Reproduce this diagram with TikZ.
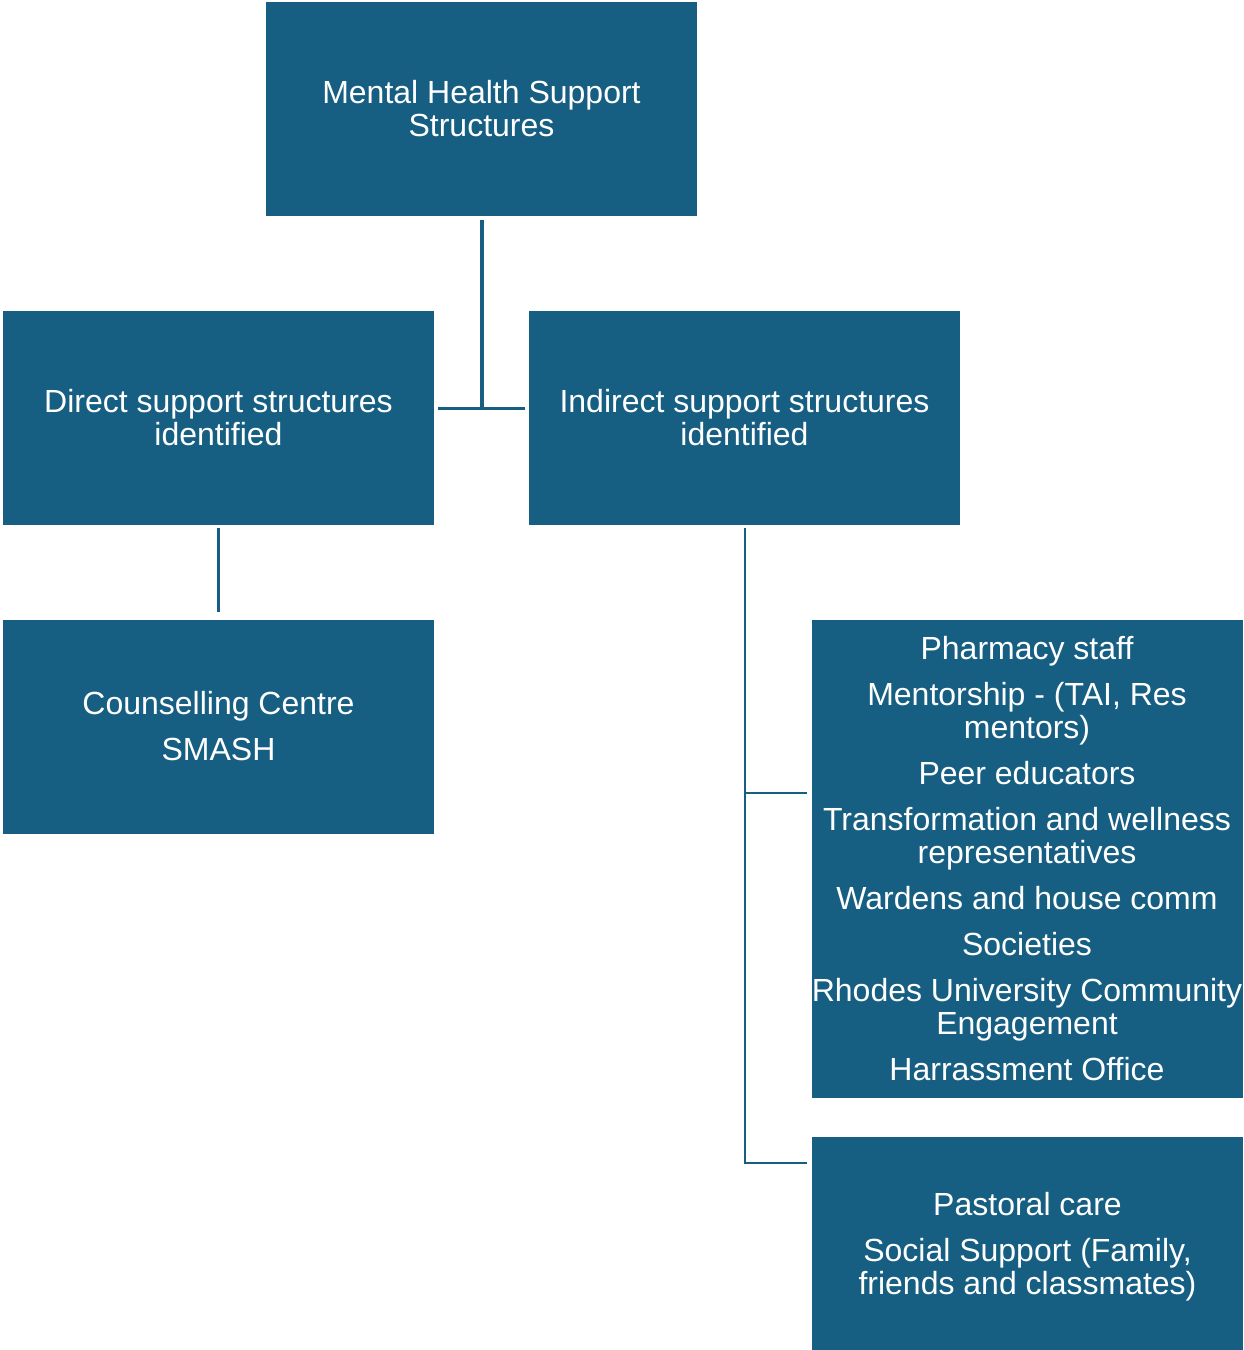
\documentclass[tikz,border=0pt]{standalone}
\usepackage{fontspec}
\setmainfont{Liberation Sans}
\usetikzlibrary{positioning}
\definecolor{boxblue}{RGB}{23,95,130}
\tikzset{
  block/.style={fill=boxblue, text=white, align=center, inner sep=0pt,
    minimum width=215.5pt, minimum height=107pt,
    font=\fontsize{16}{16.5}\selectfont},
  link/.style={draw=boxblue, line width=1.2pt},
}
\begin{document}
\begin{tikzpicture}[x=0.5pt,y=-0.5pt]
 \useasboundingbox (0,0) rectangle (1243,1350);
 % boxes
 \node[block] (top) at (481.5,109) {Mental Health Support\\Structures};
 \node[block] (direct) at (218.5,418) {Direct support structures\\identified};
 \node[block] (indirect) at (744.5,418) {Indirect support structures\\identified};
 \node[block] (counsel) at (218.5,726.5) {Counselling Centre\\[6.5pt]SMASH};
 \node[block, minimum height=239pt] (others) at (1027,859)
  {Pharmacy staff\\[6.5pt]Mentorship - (TAI, Res\\mentors)\\[6.5pt]Peer educators\\[6.5pt]%
   Transformation and wellness\\representatives\\[6.5pt]Wardens and house comm\\[6.5pt]%
   Societies\\[6.5pt]Rhodes University Community\\Engagement\\[6.5pt]Harrassment Office};
 \node[block, minimum height=109.5pt] (pastoral) at (1027.5,1246.5)
  {Pastoral care\\[6.5pt]Social Support (Family,\\friends and classmates)};
 % connectors
 \coordinate (junction) at (481.5,408.5);
 \coordinate (elbowA) at (745,793);
 \coordinate (elbowB) at (745,1163);
 \draw[link, line width=2pt, shorten <=2pt] (top.south) -- (junction);
 \draw[link, shorten <=2pt, shorten >=2pt] (direct.east |- junction) -- (indirect.west |- junction);
 \draw[link, shorten <=1.5pt, shorten >=3.5pt] (direct.south) -- (counsel.north);
 \draw[link, shorten <=1.5pt, shorten >=2.5pt] (indirect.south -| elbowB) -- (elbowB) -- (pastoral.west |- elbowB);
 \draw[link, shorten >=2pt] (elbowA) -- (others.west |- elbowA);
\end{tikzpicture}
\end{document}
